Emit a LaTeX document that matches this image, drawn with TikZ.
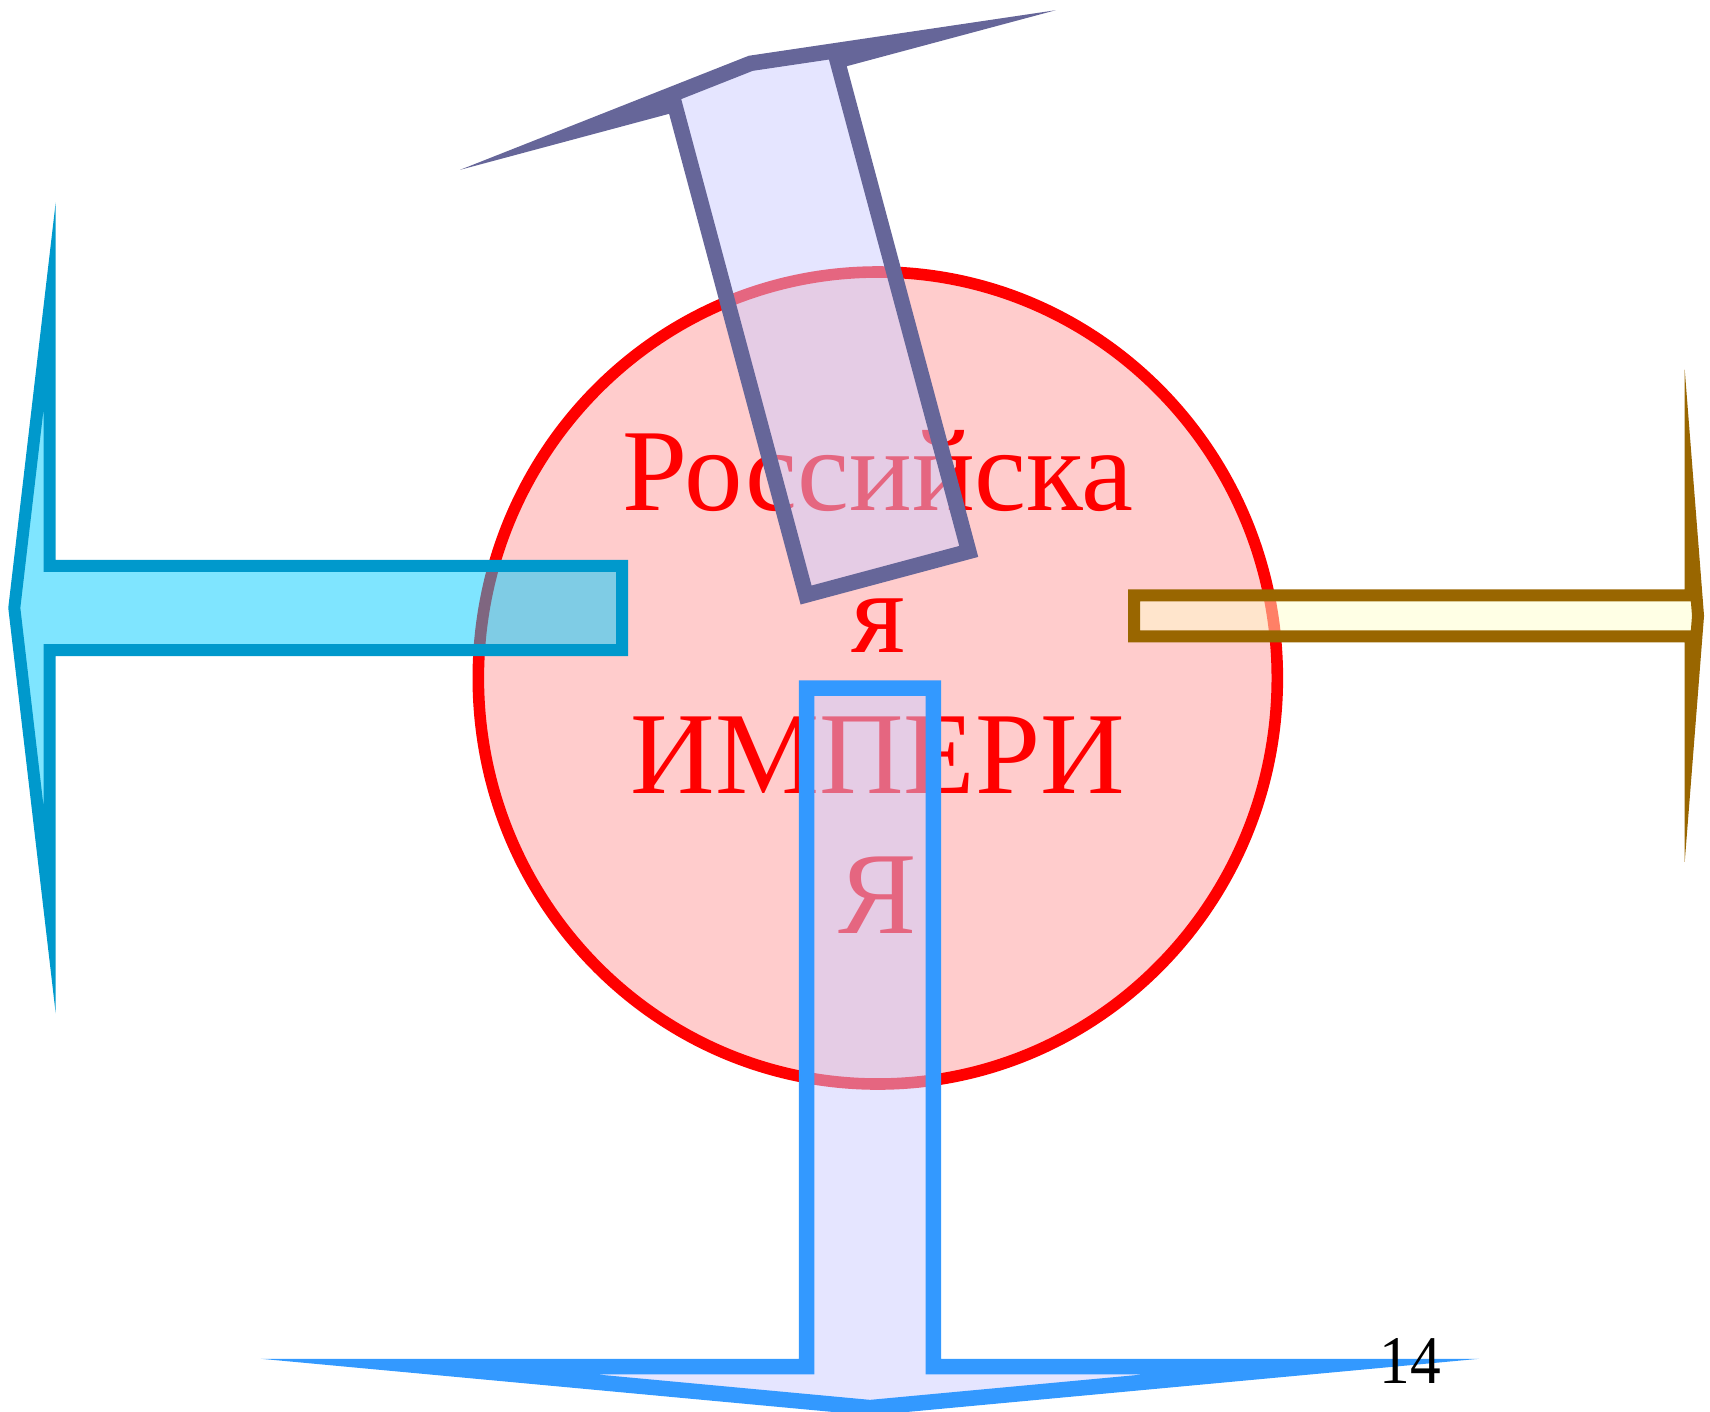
\documentclass[tikz,border=0pt]{standalone}
\usepackage{fontspec}
\setmainfont{Liberation Serif}
\usetikzlibrary{shapes.geometric}
\definecolor{slate}{RGB}{102,102,153}
\definecolor{lavender}{RGB}{204,204,255}
\definecolor{skyline}{RGB}{51,153,255}
\definecolor{cyanline}{RGB}{0,153,204}
\definecolor{cyanfill}{RGB}{0,204,255}
\definecolor{ochre}{RGB}{153,102,0}
\definecolor{cream}{RGB}{255,255,204}
\tikzset{
  empire/.style={
    shape = ellipse,
    draw = red,
    fill = red!20,
    line width = 0.116cm,
    minimum width = 7.99cm,
    minimum height = 8.12cm,
    inner sep = 0pt
  },
  title/.style={
    anchor = base,
    text = red,
    inner sep = 0pt,
    font = \fontsize{33.3}{40}\selectfont
  },
  block/.style={
    line join = miter,
    miter limit = 40,
    fill opacity = 0.5
  },
  pagenum/.style={
    anchor = base,
    inner sep = 0pt,
    font = \fontsize{19.4}{22}\selectfont
  }
}
\begin{document}
\begin{tikzpicture}
  \useasboundingbox (0,0) rectangle (17.10,-14.11);
  \node[empire] (circ) at (8.778,-6.78) {};
  % text in four lines
  \node[title] (l1) at (8.78,-5.10) {Российска};
  \node[title] (l2) at (8.78,-6.52) {я};
  \node[title] (l3) at (8.78,-7.93) {ИМПЕРИ};
  \node[title] (l4) at (8.78,-9.33) {Я};
  % left arrow
  \draw[block, draw=cyanline, fill=cyanfill, line width=0.12cm]
    (6.22,-5.658) -- (0.497,-5.658) -- (0.497,-3.053) -- (0.143,-6.079)
    -- (0.497,-9.105) -- (0.497,-6.50) -- (6.22,-6.50) -- cycle;
  % top arrow, tilted
  \begin{scope}[shift={(8.874,-5.732)}, rotate=15]
    \draw[block, draw=slate, fill=lavender, line width=0.155cm]
      (-0.842,0) -- (-0.842,5.08) -- (-1.73,5.08) -- (0,5.279)
      -- (1.73,5.08) -- (0.842,5.08) -- (0.842,0) -- cycle;
  \end{scope}
  % right arrow
  \draw[block, draw=ochre, fill=cream, line width=0.12cm]
    (11.34,-5.953) -- (16.907,-5.953) -- (16.907,-5.228) -- (16.98,-6.158)
    -- (16.907,-7.088) -- (16.907,-6.363) -- (11.34,-6.363) -- cycle;
  % bottom arrow
  \draw[block, draw=skyline, fill=lavender, line width=0.155cm]
    (8.067,-6.88) -- (9.333,-6.88) -- (9.333,-13.665) -- (13.12,-13.665)
    -- (8.70,-14.076) -- (4.28,-13.665) -- (8.067,-13.665) -- cycle;
  \node[pagenum] (num) at (14.10,-13.83) {\scalebox{0.9}[1]{14}};
\end{tikzpicture}
\end{document}
